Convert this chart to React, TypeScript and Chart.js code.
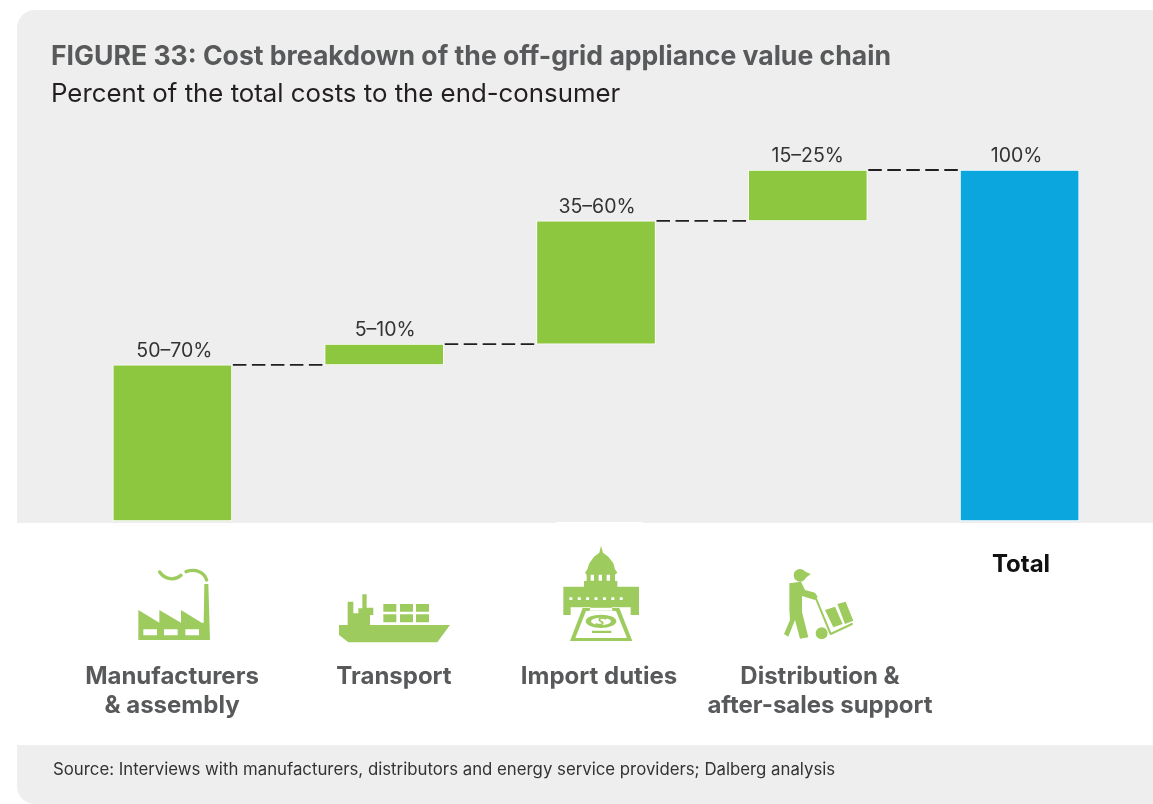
import React, { useEffect, useRef } from "react";
import { Chart, registerables } from "chart.js";

Chart.register(...registerables);

// ---- data ----
const categories = [["Manufacturers", "& assembly"], ["Transport"], ["Import duties"], ["Distribution &", "after-sales support"], ["Total"]];
const rangeLabels = ["50–70%", "5–10%", "35–60%", "15–25%", "100%"];
const barStarts = [0, 44.5, 50.4, 85.5, 0];
const barEnds = [44.5, 50.4, 85.5, 100, 100];
const titleText = "FIGURE 33: Cost breakdown of the off-grid appliance value chain";
const subtitleText = "Percent of the total costs to the end-consumer";
const sourceText = "Source: Interviews with manufacturers, distributors and energy service providers; Dalberg analysis";

// ---- styling / layout ----
const GREEN = "#8dc63f";
const BLUE = "#0ca6df";
const ICON = "#9ecb5e";
const GREY = "#58595b";
const FONT = "Inter, Roboto, sans-serif";
const labelCentres = [172, 394, 599, 820, 1021];
const labelRowY = [677, 706];
const totalRowY = 565;
const rangeNudges = [2, 1, 1, 0, -3];

function poly(p: Path2D, pts: number[]) {
  p.moveTo(pts[0], pts[1]);
  for (let i = 2; i < pts.length; i += 2) p.lineTo(pts[i], pts[i + 1]);
  p.closePath();
}
function rect(p: Path2D, x: number, y: number, w: number, h: number) {
  p.rect(x, y, w, h);
}

function drawIcons(ctx: CanvasRenderingContext2D) {
  ctx.save();
  ctx.fillStyle = ICON;
  ctx.strokeStyle = ICON;
  ctx.lineCap = "round";
  ctx.lineJoin = "round";

  // factory + ship, drawn in a 3x frame with origin (100,500)
  ctx.save();
  ctx.translate(100, 500);
  ctx.scale(1 / 3, 1 / 3);
  const factory = new Path2D();
  poly(factory, [115, 330, 178, 368, 178, 330, 243, 368, 243, 330, 305, 368, 311, 368, 313, 252, 325, 252, 330, 420, 115, 420]);
  [130, 192, 256].forEach((x) => rect(factory, x, 388, 41, 18));
  ctx.fill(factory, "evenodd");
  ctx.lineWidth = 10;
  const smoke = new Path2D();
  smoke.moveTo(179, 216);
  smoke.bezierCurveTo(195, 240, 225, 242, 243, 226);
  smoke.moveTo(258, 215);
  smoke.bezierCurveTo(285, 205, 312, 215, 320, 240);
  ctx.stroke(smoke);

  const ship = new Path2D();
  poly(ship, [717, 375, 1050, 375, 1012, 427, 745, 427, 717, 405]);
  poly(ship, [743, 305, 760, 305, 760, 340, 775, 340, 775, 325, 787, 325, 787, 283, 800, 283, 800, 323, 820, 323, 820, 345, 810, 345, 810, 376, 743, 376]);
  [850, 900, 948].forEach((x) => {
    rect(ship, x, 312, 39, 23);
    rect(ship, x, 343, 39, 24);
  });
  ctx.fill(ship);
  ctx.restore();

  // capitol + porter, 3x frame with origin (500,500)
  ctx.save();
  ctx.translate(500, 500);
  ctx.scale(1 / 3, 1 / 3);
  const capitol = new Path2D();
  poly(capitol, [303, 137, 309, 158, 325, 170, 340, 190, 345, 208, 352, 218, 345, 224, 345, 243, 352, 243, 352, 260, 417, 260, 417, 345, 392, 345, 392, 322, 360, 322, 345, 322, 262, 322, 245, 322, 212, 322, 212, 345, 190, 345, 190, 260, 252, 260, 252, 243, 260, 243, 260, 224, 255, 218, 262, 208, 268, 190, 282, 170, 298, 158]);
  for (let x = 208; x <= 384; x += 25.2) rect(capitol, x, 292, 9, 8);
  [272, 296, 320].forEach((x) => rect(capitol, x, 224, 10, 18));
  ctx.fill(capitol, "evenodd");
  const rug = new Path2D();
  poly(rug, [248, 324, 358, 324, 397, 423, 210, 423]);
  poly(rug, [258, 333, 348, 333, 381, 414, 226, 414]);
  poly(rug, [272, 322, 335, 322, 338, 332, 268, 332]);
  ctx.fill(rug, "evenodd");
  const bill = new Path2D();
  bill.ellipse(303, 364, 46, 20, 0, 0, Math.PI * 2);
  bill.ellipse(303, 364, 30, 11, 0, 0, Math.PI * 2);
  rect(bill, 276, 392, 58, 7);
  ctx.fill(bill, "evenodd");
  ctx.lineWidth = 5;
  const sign = new Path2D();
  sign.moveTo(318, 356);
  sign.bezierCurveTo(300, 350, 292, 360, 302, 364);
  sign.bezierCurveTo(316, 368, 305, 378, 288, 372);
  ctx.stroke(sign);

  // porter
  const man = new Path2D();
  man.arc(900, 226, 19, 0, Math.PI * 2);
  poly(man, [900, 208, 932, 222, 918, 233]);
  poly(man, [868, 250, 903, 245, 915, 270, 945, 278, 953, 290, 945, 300, 906, 288, 906, 335, 925, 412, 900, 416, 885, 360, 865, 410, 852, 402, 870, 360, 868, 325]);
  man.moveTo(983, 400);
  man.arc(965, 400, 18, 0, Math.PI * 2);
  poly(man, [975, 330, 1005, 320, 1028, 372, 1000, 382]);
  poly(man, [1012, 312, 1037, 305, 1060, 362, 1035, 372]);
  ctx.fill(man);
  ctx.lineWidth = 6;
  const cart = new Path2D();
  cart.moveTo(948, 296);
  cart.lineTo(992, 402);
  cart.lineTo(1056, 372);
  ctx.stroke(cart);
  ctx.restore();

  ctx.restore();
}

const overlayPlugin = {
  id: "overlay",
  afterDatasetsDraw(chart: any) {
    const { ctx } = chart;
    const bars = chart.getDatasetMeta(0).data;

    // dashed connectors between consecutive bars
    ctx.save();
    ctx.strokeStyle = "#231f20";
    ctx.lineWidth = 1.8;
    ctx.setLineDash([13.5, 5.5]);
    for (let i = 0; i < bars.length - 1; i++) {
      const a = bars[i];
      const b = bars[i + 1];
      ctx.beginPath();
      ctx.moveTo(a.x + a.width / 2 + 1, a.y);
      ctx.lineTo(b.x - b.width / 2 - 1, a.y);
      ctx.stroke();
    }
    ctx.restore();

    // value range labels above the bars
    ctx.save();
    ctx.font = `400 19.5px ${FONT}`;
    ctx.fillStyle = "#333333";
    ctx.textAlign = "center";
    ctx.textBaseline = "middle";
    bars.forEach((bar: any, i: number) => ctx.fillText(rangeLabels[i], bar.x + rangeNudges[i], bar.y - 14));
    ctx.restore();

    drawIcons(ctx);

    // category labels
    ctx.save();
    ctx.font = `700 24px ${FONT}`;
    ctx.textAlign = "center";
    ctx.textBaseline = "middle";
    chart.data.labels.forEach((lines: string[], i: number) => {
      const isTotal = i === chart.data.labels.length - 1;
      ctx.fillStyle = isTotal ? "#111111" : GREY;
      lines.forEach((line, j) => {
        ctx.fillText(line, labelCentres[i], isTotal ? totalRowY : labelRowY[j]);
      });
    });
    ctx.restore();

    // source note
    ctx.save();
    ctx.font = `400 16.8px ${FONT}`;
    ctx.fillStyle = "#333333";
    ctx.textAlign = "left";
    ctx.textBaseline = "middle";
    ctx.fillText(sourceText, 53, 769.5);
    ctx.restore();
  },
};

export default function App() {
  const ref = useRef<HTMLCanvasElement>(null);

  useEffect(() => {
    const chart = new Chart(ref.current!, {
      type: "bar",
      data: {
        labels: categories as any,
        datasets: [
          {
            data: barStarts.map((s, i) => [s, barEnds[i]]) as any,
            backgroundColor: [GREEN, GREEN, GREEN, GREEN, BLUE],
            borderColor: "#ffffff",
            borderWidth: 1,
            borderSkipped: false,
            barThickness: 119,
          },
        ],
      },
      options: {
        responsive: false,
        animation: false,
        layout: { padding: { left: 51, right: 27.5, top: 0, bottom: 283 } },
        plugins: {
          legend: { display: false },
          tooltip: { enabled: false },
          title: {
            display: true,
            text: titleText,
            align: "start",
            color: GREY,
            font: { family: FONT, size: 26.6, weight: "bold", lineHeight: 1.2 },
            padding: { top: 40.6, bottom: 0 },
          },
          subtitle: {
            display: true,
            text: subtitleText,
            align: "start",
            color: "#231f20",
            font: { family: FONT, size: 25.8, weight: "normal", lineHeight: 1.2 },
            padding: { top: 6, bottom: 60.5 },
          },
        },
        scales: {
          x: { display: false, grid: { display: false } },
          y: {
            min: 0,
            max: 100,
            grid: { display: false },
            border: { display: false },
            ticks: { display: false },
            afterFit: (s: any) => {
              s.width = 15.5;
            },
          },
        },
      },
      plugins: [overlayPlugin],
    } as any);
    return () => chart.destroy();
  }, []);

  const panel: React.CSSProperties = { position: "absolute", left: 17, right: 0, background: "#eeeeee" };
  return (
    <div style={{ position: "fixed", left: 0, top: 0, width: 1153, height: 804, overflow: "hidden", background: "#ffffff" }}>
      <div style={{ ...panel, top: 10, height: 513, borderTopLeftRadius: 18 }} />
      <div style={{ position: "absolute", left: 556, top: 522, width: 87, height: 1, background: "#ffffff" }} />
      <div style={{ ...panel, top: 745, height: 59, borderBottomLeftRadius: 18 }} />
      <canvas ref={ref} width={1153} height={804} style={{ position: "absolute", left: 0, top: 0 }} />
    </div>
  );
}
